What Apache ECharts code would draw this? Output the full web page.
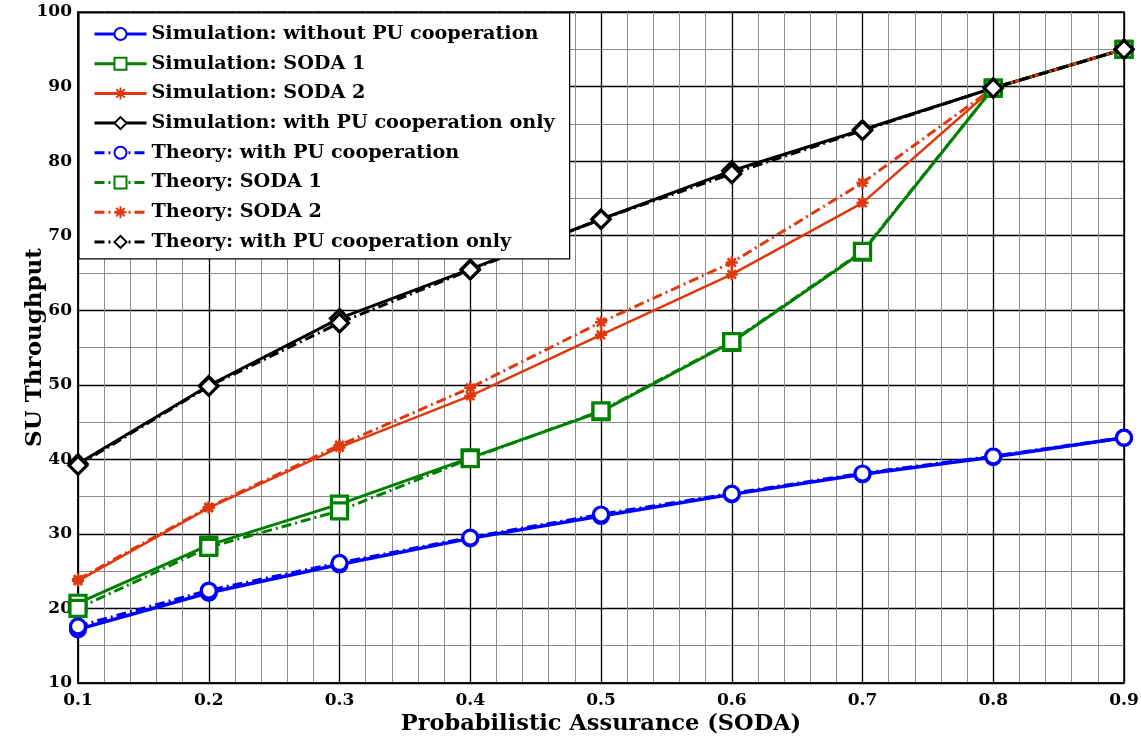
<!DOCTYPE html>
<html>
<head>
<meta charset="utf-8">
<script src="https://cdn.jsdelivr.net/npm/echarts@6/dist/echarts.min.js"></script>
<style>
html,body{margin:0;padding:0;background:#fff;}
#chart{width:1141px;height:742px;}
</style>
</head>
<body>
<div id="chart"></div>
<script>
const xValues = [0.1, 0.2, 0.3, 0.4, 0.5, 0.6, 0.7, 0.8, 0.9];
const simNoCoop = [17.2, 22.1, 25.9, 29.4, 32.4, 35.3, 38.0, 40.3, 42.9];
const simSoda1 = [20.7, 28.5, 34.0, 40.2, 46.4, 55.7, 67.8, 89.8, 95.0];
const simSoda2 = [23.7, 33.5, 41.6, 48.5, 56.7, 64.8, 74.4, 89.8, 95.0];
const simCoopOnly = [39.4, 49.9, 58.9, 65.5, 72.2, 78.7, 84.2, 89.8, 95.0];
const thNoCoop = [17.6, 22.4, 26.1, 29.5, 32.6, 35.4, 38.1, 40.4, 42.9];
const thSoda1 = [20.0, 28.2, 33.1, 40.1, 46.5, 55.8, 67.9, 89.8, 95.0];
const thSoda2 = [23.9, 33.6, 41.9, 49.6, 58.4, 66.4, 77.1, 89.8, 95.0];
const thCoopOnly = [39.2, 49.8, 58.3, 65.4, 72.2, 78.3, 84.1, 89.8, 95.0];
const seriesNames = [
  'Simulation: without PU cooperation',
  'Simulation: SODA 1',
  'Simulation: SODA 2',
  'Simulation: with PU cooperation only',
  'Theory: with PU cooperation',
  'Theory: SODA 1',
  'Theory: SODA 2',
  'Theory: with PU cooperation only'
];

const FONT = 'DejaVu Serif';
const BLUE = '#0000ff', GREEN = '#008000', RED = '#e0380e', BLACK = '#000000';
const ASTERISK = 'path://M0 5 L10 5 M5 0 L5 10 M1.5 1.5 L8.5 8.5 M8.5 1.5 L1.5 8.5';
const DASHDOT = [10, 4, 2, 4];

function pairs(ys){ return xValues.map((x,i)=>[x, ys[i]]); }

function mk(name, ys, color, symbol, size, dashed, width){
  return {
    name: name,
    type: 'line',
    data: pairs(ys),
    symbol: symbol,
    symbolSize: size,
    showSymbol: true,
    animation: false,
    lineStyle: {color: color, width: width, type: dashed ? DASHDOT : 'solid'},
    itemStyle: {color: symbol === ASTERISK ? color : '#fff', borderColor: color, borderWidth: symbol === ASTERISK ? 2.5 : 3.2},
    emphasis: {disabled: true}
  };
}

const series = [
  mk(seriesNames[0], simNoCoop, BLUE, 'circle', 15, false, 3.5),
  mk(seriesNames[1], simSoda1, GREEN, 'rect', 16, false, 3),
  mk(seriesNames[2], simSoda2, RED, ASTERISK, 12, false, 2.5),
  mk(seriesNames[3], simCoopOnly, BLACK, 'diamond', 18, false, 3),
  mk(seriesNames[4], thNoCoop, BLUE, 'circle', 15, true, 3.5),
  mk(seriesNames[5], thSoda1, GREEN, 'rect', 16, true, 3),
  mk(seriesNames[6], thSoda2, RED, ASTERISK, 12, true, 3),
  mk(seriesNames[7], thCoopOnly, BLACK, 'diamond', 18, true, 3)
];

const chart = echarts.init(document.getElementById('chart'), null, {renderer: 'canvas'});
chart.setOption({
  animation: false,
  backgroundColor: '#fff',
  grid: {left: 78, right: 17, top: 12, bottom: 59, containLabel: false, outerBoundsMode: 'none', show: true, borderColor: '#000', borderWidth: 1.5, backgroundColor: 'transparent'},
  legend: {
    data: seriesNames,
    orient: 'vertical',
    left: 79, top: 13,
    padding: [11, 15, 7, 14],
    itemWidth: 52, itemHeight: 15, itemGap: 9.7,
    backgroundColor: '#fff',
    borderColor: '#000', borderWidth: 1.2,
    lineStyle: {width: 3},
    textStyle: {fontFamily: FONT, fontWeight: 'bold', fontSize: 19.2, lineHeight: 20, color: '#000'},
    selectedMode: false
  },
  xAxis: {
    type: 'value', min: 0.1, max: 0.9, interval: 0.1,
    name: 'Probabilistic Assurance (SODA)', nameLocation: 'middle', nameGap: 30, nameMoveOverlap: false,
    nameTextStyle: {fontFamily: FONT, fontWeight: 'bold', fontSize: 22.5, color: '#000'},
    axisLine: {show: true, onZero: false, lineStyle: {color: '#000', width: 1.5}},
    axisTick: {show: true, inside: true, length: 5, lineStyle: {color: '#000'}},
    axisLabel: {fontFamily: FONT, fontWeight: 'bold', fontSize: 17, color: '#000', margin: 9, formatter: v => v.toFixed(1)},
    splitLine: {show: true, lineStyle: {color: '#000', width: 1.3}},
    minorTick: {show: false, splitNumber: 5},
    minorSplitLine: {show: true, lineStyle: {color: '#8c8c8c', width: 1}}
  },
  yAxis: {
    type: 'value', min: 10, max: 100, interval: 10,
    name: 'SU Throughput', nameLocation: 'middle', nameGap: 31, nameRotate: 90, nameMoveOverlap: false,
    nameTextStyle: {fontFamily: FONT, fontWeight: 'bold', fontSize: 23, color: '#000'},
    axisLine: {show: true, lineStyle: {color: '#000', width: 1.5}},
    axisTick: {show: true, inside: true, length: 5, lineStyle: {color: '#000'}},
    axisLabel: {fontFamily: FONT, fontWeight: 'bold', fontSize: 17, color: '#000', margin: 6},
    splitLine: {show: true, lineStyle: {color: '#000', width: 1.3}},
    minorTick: {show: false, splitNumber: 2},
    minorSplitLine: {show: true, lineStyle: {color: '#8c8c8c', width: 1}}
  },
  series: series
});
</script>
</body>
</html>
